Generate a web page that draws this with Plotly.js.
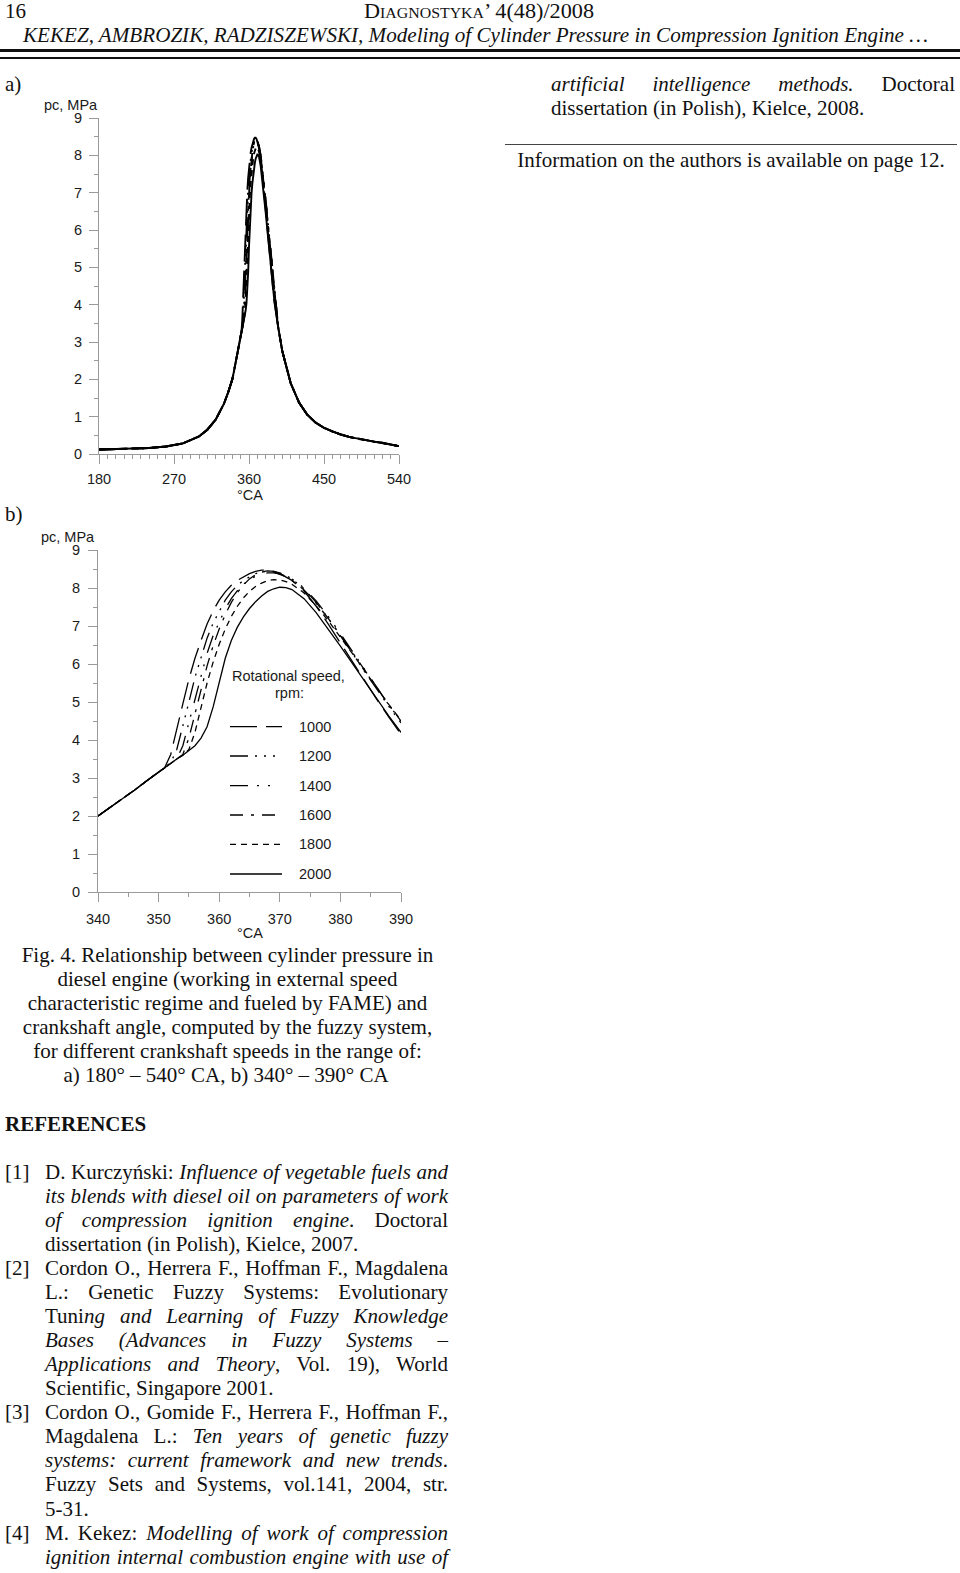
<!DOCTYPE html>
<html>
<head>
<meta charset="utf-8">
<script src="https://cdn.plot.ly/plotly-3.0.1.min.js"></script>
<style>
  html, body { margin:0; padding:0; background:#fff; }
  #page { position:relative; width:960px; height:1573px; overflow:hidden; background:#fff; color:#111;
          font-family:"Liberation Serif","Times New Roman",serif; font-size:21px; }
  .ln { position:absolute; white-space:nowrap; line-height:24px; height:24px; }
  .hd { position:absolute; white-space:nowrap; line-height:20px; height:20px; }
  .j { text-align:justify; text-align-last:justify; }
  .c { text-align:center; }
  .rule { position:absolute; background:#111; }
  .chart { position:absolute; }
</style>
</head>
<body>
<div id="page">
  <!-- header -->
  <div class="hd" style="left:5px; top:1px;">16</div>
  <div class="hd" id="journal" style="left:364px; top:1px; font-variant:small-caps; transform-origin:0 50%;">Diagnostyka’ 4(48)/2008</div>
  <div class="ln" id="runhead" style="left:23px; top:23px; font-style:italic; transform-origin:0 50%;">KEKEZ, AMBROZIK, RADZISZEWSKI, Modeling of Cylinder Pressure in Compression Ignition Engine …</div>
  <div class="rule" style="left:0; top:49px; width:960px; height:3px;"></div>
  <div class="rule" style="left:0; top:57px; width:960px; height:1.5px;"></div>

  <!-- right column -->
  <div class="ln j" style="left:551px; width:404px; top:72px;"><i>artificial intelligence methods.</i> Doctoral</div>
  <div class="ln" style="left:551px; top:96px;">dissertation (in Polish), Kielce, 2008.</div>
  <div class="rule" style="left:505px; top:144px; width:452px; height:1px; background:#444;"></div>
  <div class="ln c" style="left:505px; width:452px; top:148px;">Information on the authors is available on page 12.</div>

  <!-- panel labels -->
  <div class="ln" style="left:5px; top:72px;">a)</div>
  <div class="ln" style="left:5px; top:502px;">b)</div>

  <!-- charts -->
  <div id="chartA" class="chart" style="left:0; top:70px; width:420px; height:440px;"></div>
  <div id="chartB" class="chart" style="left:0; top:520px; width:420px; height:430px;"></div>

  <!-- caption -->
  <div class="ln c" style="left:0; width:455px; top:943px;">Fig. 4. Relationship between cylinder pressure in</div>
  <div class="ln c" style="left:0; width:455px; top:967px;">diesel engine (working in external speed</div>
  <div class="ln c" style="left:0; width:455px; top:991px;">characteristic regime and fueled by FAME) and</div>
  <div class="ln c" style="left:0; width:455px; top:1015px;">crankshaft angle, computed by the fuzzy system,</div>
  <div class="ln c" style="left:0; width:455px; top:1039px;">for different crankshaft speeds in the range of:</div>
  <div class="ln c" style="left:0; width:452px; top:1063px;">a) 180° – 540° CA, b) 340° – 390° CA</div>

  <div class="ln" style="left:5px; top:1112px; font-weight:bold;">REFERENCES</div>

  <!-- references -->
  <div class="ln" style="left:5px; top:1160px;">[1]</div>
  <div class="ln j" style="left:45px; width:403px; top:1160px;">D. Kurczyński: <i>Influence of vegetable fuels and</i></div>
  <div class="ln j" style="left:45px; width:403px; top:1184px;"><i>its blends with diesel oil on parameters of work</i></div>
  <div class="ln j" style="left:45px; width:403px; top:1208px;"><i>of compression ignition engine</i>. Doctoral</div>
  <div class="ln" style="left:45px; top:1232px;">dissertation (in Polish), Kielce, 2007.</div>

  <div class="ln" style="left:5px; top:1256px;">[2]</div>
  <div class="ln j" style="left:45px; width:403px; top:1256px;">Cordon O., Herrera F., Hoffman F., Magdalena</div>
  <div class="ln j" style="left:45px; width:403px; top:1280px;">L.: Genetic Fuzzy Systems: Evolutionary</div>
  <div class="ln j" style="left:45px; width:403px; top:1304px;">Tuni<i>ng and Learning of Fuzzy Knowledge</i></div>
  <div class="ln j" style="left:45px; width:403px; top:1328px;"><i>Bases (Advances in Fuzzy Systems –</i></div>
  <div class="ln j" style="left:45px; width:403px; top:1352px;"><i>Applications and Theory</i>, Vol. 19), World</div>
  <div class="ln" style="left:45px; top:1376px;">Scientific, Singapore 2001.</div>

  <div class="ln" style="left:5px; top:1400px;">[3]</div>
  <div class="ln j" style="left:45px; width:403px; top:1400px;">Cordon O., Gomide F., Herrera F., Hoffman F.,</div>
  <div class="ln j" style="left:45px; width:403px; top:1424px;">Magdalena L.: <i>Ten years of genetic fuzzy</i></div>
  <div class="ln j" style="left:45px; width:403px; top:1448px;"><i>systems: current framework and new trends</i>.</div>
  <div class="ln j" style="left:45px; width:403px; top:1472px;">Fuzzy Sets and Systems, vol.141, 2004, str.</div>
  <div class="ln" style="left:45px; top:1497px;">5-31.</div>

  <div class="ln" style="left:5px; top:1521px;">[4]</div>
  <div class="ln j" style="left:45px; width:403px; top:1521px;">M. Kekez: <i>Modelling of work of compression</i></div>
  <div class="ln j" style="left:45px; width:403px; top:1545px;"><i>ignition internal combustion engine with use of</i></div>
</div>

<script>
// ---------------- DATA ----------------
const speeds = ['1000', '1200', '1400', '1600', '1800', '2000'];

// Panel b: crank angle grid (°CA)
const angleB = [340,342,344,346,348,350,351,352,353,354,355,356,357,358,359,360,361,362,363,364,365,366,367,368,369,370,371,372,374,376,378,380,382,384,386,388,390];

// Panel b: cylinder pressure (MPa) per rotational speed
const p1000 = [2.0,2.22,2.45,2.68,2.92,3.15, 3.27,3.62,4.25,4.95,5.6,6.15,6.62,7.05,7.4,7.68,7.9,8.07,8.2,8.3,8.38,8.44,8.47,8.47,8.44,8.38,8.3,8.2, 7.92,7.52,7.05,6.55,6.05,5.55,5.07,4.6,4.15];
const p1200 = [2.0,2.22,2.45,2.68,2.92,3.15, 3.27,3.4,3.75,4.35,5.0,5.65,6.2,6.68,7.08,7.4,7.68,7.9,8.07,8.2,8.3,8.38,8.43,8.45,8.44,8.4,8.33,8.24, 7.98,7.62,7.2,6.75,6.28,5.8,5.33,4.88,4.45];
const p1400 = [2.0,2.22,2.45,2.68,2.92,3.15, 3.27,3.4,3.5,3.85,4.45,5.1,5.72,6.28,6.75,7.12,7.45,7.72,7.93,8.1,8.22,8.31,8.37,8.4,8.4,8.37,8.32,8.24, 8.0,7.66,7.25,6.8,6.33,5.85,5.38,4.92,4.5];
const p1600 = [2.0,2.22,2.45,2.68,2.92,3.15, 3.27,3.4,3.5,3.62,4.05,4.7,5.35,5.95,6.48,6.92,7.3,7.62,7.88,8.08,8.24,8.35,8.42,8.44,8.42,8.37,8.3,8.2, 7.95,7.6,7.2,6.76,6.3,5.83,5.37,4.92,4.5];
const p1800 = [2.0,2.22,2.45,2.68,2.92,3.15, 3.27,3.4,3.5,3.6,3.75,4.2,4.85,5.5,6.05,6.52,6.92,7.25,7.52,7.74,7.91,8.04,8.13,8.19,8.22,8.21,8.17,8.1, 7.87,7.53,7.14,6.72,6.27,5.82,5.37,4.93,4.52];
const p2000 = [2.0,2.22,2.45,2.68,2.92,3.15, 3.27,3.4,3.5,3.6,3.72,3.85,4.05,4.35,4.87,5.55,6.15,6.62,6.97,7.24,7.46,7.64,7.79,7.91,7.98,8.02,8.01,7.96, 7.72,7.35,6.92,6.47,6.01,5.54,5.08,4.63,4.2];

// Panel a: shared compression (before 340°) and expansion (after 390°) parts
const angleA_left  = [180,200,220,240,260,280,300,310,320,330,335];
const pressA_left  = [0.12,0.13,0.14,0.16,0.2,0.28,0.47,0.65,0.92,1.35,1.65];
const angleA_right = [395,400,410,420,430,440,450,460,470,480,490,500,510,520,530,540];
const pressA_right = [3.4,2.75,1.9,1.38,1.05,0.84,0.7,0.6,0.52,0.46,0.41,0.37,0.33,0.3,0.26,0.21];

// Axis ticks
const xTicksA = [180,270,360,450,540];
const xTicksB = [340,350,360,370,380,390];
const yTicks  = [0,1,2,3,4,5,6,7,8,9];

// ---------------- STYLE ----------------
const pressB = [p1000,p1200,p1400,p1600,p1800,p2000];
const dashes = ['27px,9px', '18px,7px,2px,7px,2px,7px,2px,7px', '18px,9px,2px,9px,2px,12px', '13px,8px,3px,8px', '6px,5px', 'solid'];
const sans = 'Liberation Sans, Arial, sans-serif';
const axisCol = '#9a9a9a';
const txtCol = '#1a1a1a';

function axis(range, tickvals, minorDtick, standoff, fsize) {
  return {
    range: range, tickmode: 'array', tickvals: tickvals, ticktext: tickvals.map(String),
    showgrid: false, zeroline: false, showline: true, linecolor: axisCol, linewidth: 1,
    ticks: 'outside', ticklen: 9, tickcolor: axisCol, tickwidth: 1,
    tickfont: {family: sans, size: fsize, color: txtCol}, ticklabelstandoff: standoff,
    minor: {dtick: minorDtick, tick0: range[0], ticks: 'outside', ticklen: 4, tickcolor: axisCol, showgrid: false},
    fixedrange: true
  };
}

// ---------------- CHART A ----------------
const tracesA = speeds.map((s, i) => ({
  type: 'scatter', mode: 'lines', name: s,
  x: angleA_left.concat(angleB, angleA_right),
  y: pressA_left.concat(pressB[i], pressA_right),
  line: {color: '#000', width: 1.9, dash: dashes[i]},
  cliponaxis: false, hoverinfo: 'skip'
}));

const layoutA = {
  width: 420, height: 440, margin: {l: 99, r: 21, t: 48, b: 56},
  paper_bgcolor: 'rgba(0,0,0,0)', plot_bgcolor: 'rgba(0,0,0,0)', showlegend: false,
  xaxis: axis([180, 540], xTicksA, 10, 3, 14.5),
  yaxis: axis([0, 9], yTicks, 0.5, 4, 14.5),
  annotations: [
    {text: 'pc, MPa', xref: 'paper', yref: 'paper', x: -0.095, y: 1.038, xanchor: 'center', yanchor: 'middle', showarrow: false, font: {family: sans, size: 14.5, color: txtCol}},
    {text: '°CA', xref: 'paper', yref: 'paper', x: 0.503, y: -0.122, xanchor: 'center', yanchor: 'middle', showarrow: false, font: {family: sans, size: 14.5, color: txtCol}}
  ]
};

// ---------------- CHART B ----------------
const tracesB = speeds.map((s, i) => ({
  type: 'scatter', mode: 'lines', name: s,
  x: angleB, y: pressB[i],
  line: {color: '#000', width: 1.3, dash: dashes[i]},
  cliponaxis: false, hoverinfo: 'skip'
}));

// legend drawn inside plot (paper coordinates of plot area: x 98..401px, y 550..892px)
const legY = [726.7, 756, 785.7, 815, 844.3, 874];
const px2x = px => (px - 98) / 303;
const py2y = py => (892 - py) / 342;
const legShapes = speeds.map((s, i) => ({
  type: 'line', xref: 'paper', yref: 'paper',
  x0: px2x(230), x1: px2x(282), y0: py2y(legY[i]), y1: py2y(legY[i]),
  line: {color: '#000', width: 1.3, dash: dashes[i]}
}));
const legAnn = speeds.map((s, i) => ({
  text: s, xref: 'paper', yref: 'paper', x: px2x(297), y: py2y(legY[i]),
  xanchor: 'left', yanchor: 'middle', showarrow: false, font: {family: sans, size: 14.5, color: txtCol}
}));

const layoutB = {
  width: 420, height: 430, margin: {l: 98, r: 19, t: 30, b: 58},
  paper_bgcolor: 'rgba(0,0,0,0)', plot_bgcolor: 'rgba(0,0,0,0)', showlegend: false,
  xaxis: axis([340, 390], xTicksB, 5, 5, 14.5),
  yaxis: axis([0, 9], yTicks, 0.5, 5, 14.5),
  shapes: legShapes,
  annotations: [
    {text: 'pc, MPa', xref: 'paper', yref: 'paper', x: px2x(68), y: py2y(537), xanchor: 'center', yanchor: 'middle', showarrow: false, font: {family: sans, size: 14.5, color: txtCol}},
    {text: '°CA', xref: 'paper', yref: 'paper', x: px2x(250), y: py2y(933), xanchor: 'center', yanchor: 'middle', showarrow: false, font: {family: sans, size: 14.5, color: txtCol}},
    {text: 'Rotational speed,', xref: 'paper', yref: 'paper', x: px2x(288), y: py2y(676), xanchor: 'center', yanchor: 'middle', showarrow: false, font: {family: sans, size: 14.5, color: txtCol}},
    {text: 'rpm:', xref: 'paper', yref: 'paper', x: px2x(289), y: py2y(693), xanchor: 'center', yanchor: 'middle', showarrow: false, font: {family: sans, size: 14.5, color: txtCol}}
  ].concat(legAnn)
};

const cfg = {staticPlot: true, displayModeBar: false};
Plotly.newPlot('chartA', tracesA, layoutA, cfg);
Plotly.newPlot('chartB', tracesB, layoutB, cfg);

// fit header lines to their widths in the reference
function fitTo(id, target) {
  const el = document.getElementById(id);
  el.style.transform = 'none';
  const w = el.getBoundingClientRect().width;
  if (w > 0) el.style.transform = 'scaleX(' + (target / w) + ')';
}
function fitAll() { fitTo('runhead', 905); fitTo('journal', 230); }
fitAll();
if (document.fonts && document.fonts.ready) document.fonts.ready.then(fitAll);
</script>
</body>
</html>
